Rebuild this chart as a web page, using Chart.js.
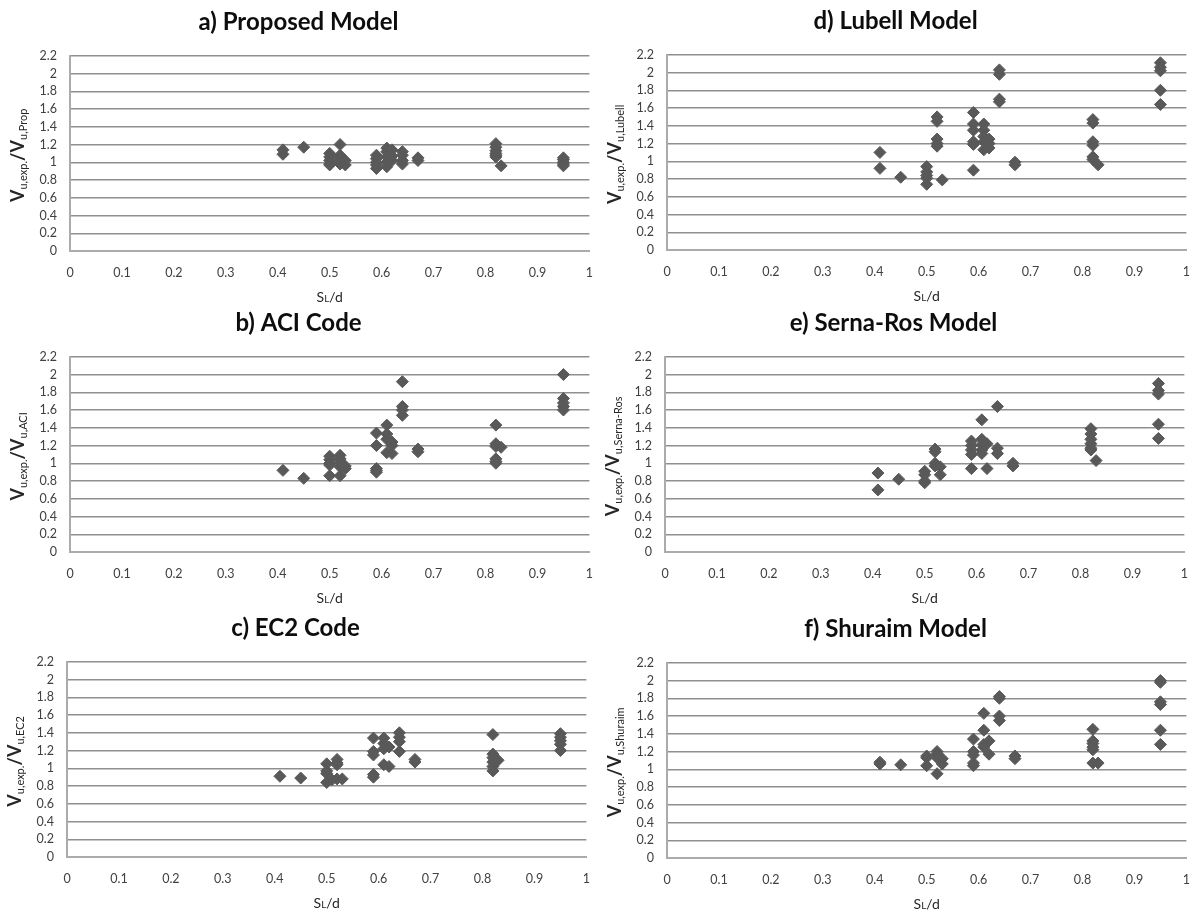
<!DOCTYPE html>
<html>
<head>
<meta charset="utf-8">
<title>Shear strength ratio vs sL/d</title>
<script src="https://cdn.jsdelivr.net/npm/chart.js@4.4.1/dist/chart.umd.min.js"></script>
<style>
  body { margin: 0; background: #fff; }
  #wrap { position: relative; width: 1200px; height: 917px; overflow: hidden; }
  #wrap canvas { position: absolute; }
</style>
</head>
<body>
<div id="wrap">
  <canvas id="chartA" width="607" height="310" style="left:0px;top:0px"></canvas>
  <canvas id="chartD" width="607" height="310" style="left:597px;top:-1px"></canvas>
  <canvas id="chartB" width="607" height="310" style="left:0px;top:301px"></canvas>
  <canvas id="chartE" width="607" height="310" style="left:595px;top:301px"></canvas>
  <canvas id="chartC" width="607" height="310" style="left:-3px;top:606px"></canvas>
  <canvas id="chartF" width="607" height="310" style="left:597px;top:607px"></canvas>
</div>
<script>
// sL/d of each specimen and Vu,exp / Vu,pred for every model
const propX = [0.41, 0.41, 0.45, 0.50, 0.50, 0.50, 0.50, 0.50, 0.52, 0.52, 0.52, 0.52, 0.52, 0.53, 0.53,
  0.59, 0.59, 0.59, 0.59, 0.59, 0.61, 0.61, 0.61, 0.61, 0.61, 0.62, 0.62, 0.62, 0.64, 0.64, 0.64, 0.64,
  0.67, 0.67, 0.82, 0.82, 0.82, 0.82, 0.82, 0.82, 0.83, 0.95, 0.95, 0.95, 0.95, 0.95];
const propY = [1.14, 1.09, 1.17, 1.10, 1.06, 1.02, 0.98, 0.97, 1.20, 1.08, 1.04, 1.00, 0.98, 1.02, 0.97,
  1.08, 1.04, 1.00, 0.97, 0.93, 1.16, 1.12, 1.06, 1.00, 0.95, 1.14, 1.07, 1.02, 1.12, 1.08, 1.02, 0.98,
  1.05, 1.02, 1.21, 1.17, 1.13, 1.10, 1.08, 1.06, 0.96, 1.05, 1.03, 1.00, 0.98, 0.96];

const aciX = [0.41, 0.45, 0.50, 0.50, 0.50, 0.50, 0.50, 0.52, 0.52, 0.52, 0.52, 0.52, 0.53, 0.53,
  0.59, 0.59, 0.59, 0.59, 0.59, 0.61, 0.61, 0.61, 0.61, 0.62, 0.62, 0.62, 0.64, 0.64, 0.64, 0.64,
  0.67, 0.67, 0.82, 0.82, 0.82, 0.82, 0.82, 0.82, 0.83, 0.95, 0.95, 0.95, 0.95, 0.95];
const aciY = [0.92, 0.83, 1.08, 1.04, 1.00, 0.98, 0.86, 1.09, 1.05, 1.01, 0.96, 0.86, 0.97, 0.94,
  1.34, 1.20, 0.94, 0.92, 0.90, 1.43, 1.33, 1.27, 1.12, 1.24, 1.20, 1.11, 1.92, 1.64, 1.60, 1.54,
  1.16, 1.13, 1.43, 1.22, 1.19, 1.05, 1.02, 1.00, 1.18, 2.00, 1.73, 1.68, 1.64, 1.60];

const ec2X = [0.41, 0.45, 0.50, 0.50, 0.50, 0.50, 0.51, 0.52, 0.52, 0.52, 0.52, 0.53,
  0.59, 0.59, 0.59, 0.59, 0.59, 0.61, 0.61, 0.61, 0.61, 0.62, 0.62, 0.64, 0.64, 0.64, 0.64,
  0.67, 0.67, 0.82, 0.82, 0.82, 0.82, 0.82, 0.82, 0.83, 0.95, 0.95, 0.95, 0.95, 0.95];
const ec2Y = [0.91, 0.89, 1.05, 0.97, 0.94, 0.84, 0.87, 1.10, 1.06, 1.04, 0.88, 0.88,
  1.34, 1.19, 1.15, 0.93, 0.90, 1.34, 1.28, 1.22, 1.04, 1.24, 1.02, 1.40, 1.35, 1.30, 1.19,
  1.10, 1.07, 1.38, 1.16, 1.12, 1.07, 1.02, 0.97, 1.09, 1.39, 1.35, 1.31, 1.27, 1.20];

const lubellX = [0.41, 0.41, 0.45, 0.50, 0.50, 0.50, 0.50, 0.50, 0.52, 0.52, 0.52, 0.52, 0.52, 0.53,
  0.59, 0.59, 0.59, 0.59, 0.59, 0.59, 0.61, 0.61, 0.61, 0.61, 0.61, 0.62, 0.62, 0.62,
  0.64, 0.64, 0.64, 0.64, 0.67, 0.67, 0.82, 0.82, 0.82, 0.82, 0.82, 0.82, 0.83,
  0.95, 0.95, 0.95, 0.95, 0.95];
const lubellY = [1.10, 0.92, 0.82, 0.94, 0.88, 0.84, 0.81, 0.74, 1.50, 1.45, 1.25, 1.20, 1.17, 0.79,
  1.55, 1.42, 1.35, 1.22, 1.19, 0.90, 1.42, 1.35, 1.28, 1.22, 1.13, 1.25, 1.20, 1.15,
  2.03, 1.98, 1.70, 1.67, 0.99, 0.96, 1.47, 1.43, 1.22, 1.18, 1.05, 1.02, 0.96,
  2.11, 2.06, 2.02, 1.80, 1.64];

const sernaX = [0.41, 0.41, 0.45, 0.50, 0.50, 0.50, 0.50, 0.52, 0.52, 0.52, 0.52, 0.53, 0.53,
  0.59, 0.59, 0.59, 0.59, 0.59, 0.61, 0.61, 0.61, 0.61, 0.61, 0.62, 0.62, 0.64, 0.64, 0.64,
  0.67, 0.67, 0.82, 0.82, 0.82, 0.82, 0.82, 0.82, 0.83, 0.95, 0.95, 0.95, 0.95, 0.95];
const sernaY = [0.89, 0.70, 0.82, 0.91, 0.87, 0.80, 0.78, 1.16, 1.13, 1.00, 0.97, 0.96, 0.87,
  1.25, 1.20, 1.15, 1.10, 0.94, 1.49, 1.27, 1.21, 1.15, 1.11, 1.22, 0.94, 1.64, 1.17, 1.11,
  1.00, 0.97, 1.39, 1.33, 1.27, 1.22, 1.17, 1.15, 1.03, 1.90, 1.82, 1.78, 1.44, 1.28];

const shuraimX = [0.41, 0.41, 0.45, 0.50, 0.50, 0.50, 0.52, 0.52, 0.52, 0.52, 0.53, 0.53,
  0.59, 0.59, 0.59, 0.59, 0.59, 0.61, 0.61, 0.61, 0.61, 0.62, 0.62, 0.64, 0.64, 0.64, 0.64,
  0.67, 0.67, 0.82, 0.82, 0.82, 0.82, 0.82, 0.82, 0.83, 0.95, 0.95, 0.95, 0.95, 0.95, 0.95];
const shuraimY = [1.08, 1.06, 1.05, 1.15, 1.13, 1.04, 1.20, 1.17, 1.13, 0.95, 1.12, 1.06,
  1.34, 1.20, 1.16, 1.07, 1.04, 1.63, 1.44, 1.28, 1.25, 1.32, 1.17, 1.82, 1.80, 1.60, 1.55,
  1.15, 1.12, 1.45, 1.32, 1.29, 1.25, 1.22, 1.07, 1.07, 2.00, 1.98, 1.76, 1.73, 1.44, 1.28];

// axis tick values
const xTickValues = [0, 0.1, 0.2, 0.3, 0.4, 0.5, 0.6, 0.7, 0.8, 0.9, 1];
const yTickValues = [0, 0.2, 0.4, 0.6, 0.8, 1, 1.2, 1.4, 1.6, 1.8, 2, 2.2];

const panels = [
  { id: 'chartA', title: 'a) Proposed Model', model: 'Prop', xs: propX, ys: propY },
  { id: 'chartB', title: 'b) ACI Code', model: 'ACI', xs: aciX, ys: aciY },
  { id: 'chartC', title: 'c) EC2 Code', model: 'EC2', xs: ec2X, ys: ec2Y },
  { id: 'chartD', title: 'd) Lubell Model', model: 'Lubell', xs: lubellX, ys: lubellY },
  { id: 'chartE', title: 'e) Serna-Ros Model', model: 'Serna-Ros', xs: sernaX, ys: sernaY },
  { id: 'chartF', title: 'f) Shuraim Model', model: 'Shuraim', xs: shuraimX, ys: shuraimY }
];

const FONT = 'Lato, Carlito, "Open Sans", sans-serif';
const TEXT_COLOR = '#262626';

// draws a run of text pieces (different sizes / offsets) centred on cx,cy
function drawRuns(ctx, runs, cx, cy, angle) {
  ctx.save();
  ctx.translate(cx, cy);
  ctx.rotate(angle);
  ctx.textBaseline = 'alphabetic';
  ctx.textAlign = 'left';
  ctx.fillStyle = TEXT_COLOR;
  let total = 0;
  runs.forEach(r => {
    ctx.font = r.font;
    r.w = ctx.measureText(r.text).width;
    total += r.w;
  });
  let x = -total / 2;
  runs.forEach(r => {
    ctx.font = r.font;
    ctx.fillText(r.text, x, r.dy);
    x += r.w;
  });
  ctx.restore();
}

// V_u,exp / V_u,model on the left and sL/d under the x axis
const axisTitles = {
  id: 'axisTitles',
  afterDraw(chart, args, opts) {
    const { ctx, chartArea } = chart;
    const midY = (chartArea.top + chartArea.bottom) / 2;
    const midX = (chartArea.left + chartArea.right) / 2;
    drawRuns(ctx, [
      { text: 'V', font: 'bold 18px ' + FONT, dy: 0 },
      { text: 'u,exp.', font: '11px ' + FONT, dy: 3 },
      { text: '/V', font: 'bold 18px ' + FONT, dy: 0 },
      { text: 'u,' + opts.model, font: '11px ' + FONT, dy: 3 }
    ], 24, midY + 2, -Math.PI / 2);
    drawRuns(ctx, [
      { text: 'S', font: '14px ' + FONT, dy: 0 },
      { text: 'L', font: '10px ' + FONT, dy: 0 },
      { text: '/d', font: '14px ' + FONT, dy: 0 }
    ], midX, chartArea.bottom + 51, 0);
  }
};

function fmt(v) {
  return String(v);
}

panels.forEach(p => {
  const points = p.xs.map((x, i) => ({ x: x, y: p.ys[i] }));
  new Chart(document.getElementById(p.id), {
    type: 'scatter',
    data: {
      datasets: [{
        data: points,
        pointStyle: 'rectRot',
        pointRadius: 6,
        pointBackgroundColor: '#595959',
        pointBorderColor: '#595959',
        pointBorderWidth: 1
      }]
    },
    options: {
      responsive: false,
      animation: false,
      devicePixelRatio: 1,
      // the x labels' own padding keeps ~17px free on the right
      layout: { padding: { left: 0, top: 0, right: 10, bottom: 0 } },
      plugins: {
        legend: { display: false },
        tooltip: { enabled: false },
        title: {
          display: true,
          text: p.title,
          color: '#0d0d0d',
          font: { family: FONT, size: 24, weight: 'bold', lineHeight: 1.2 },
          padding: { top: 8, bottom: 19 }
        },
        axisTitles: { model: p.model }
      },
      scales: {
        x: {
          type: 'linear',
          min: 0,
          max: 1,
          afterBuildTicks: s => { s.ticks = xTickValues.map(v => ({ value: v })); },
          afterFit: s => { s.height = 59; },
          grid: { display: false, drawTicks: false },
          border: { display: true, color: '#ababab', width: 2 },
          ticks: {
            autoSkip: false,
            padding: 14,
            color: '#404040',
            font: { family: FONT, size: 12.5 },
            maxRotation: 0,
            callback: fmt
          }
        },
        y: {
          type: 'linear',
          min: 0,
          max: 2.2,
          afterBuildTicks: s => { s.ticks = yTickValues.map(v => ({ value: v })); },
          afterFit: s => { s.width = 70; },
          grid: { color: '#8f8f8f', lineWidth: 1.5, drawTicks: false },
          border: { display: true, color: '#ababab', width: 2 },
          ticks: {
            autoSkip: false,
            padding: 13,
            color: '#404040',
            font: { family: FONT, size: 12.5 },
            callback: fmt
          }
        }
      }
    },
    plugins: [axisTitles]
  });
});
</script>
</body>
</html>
